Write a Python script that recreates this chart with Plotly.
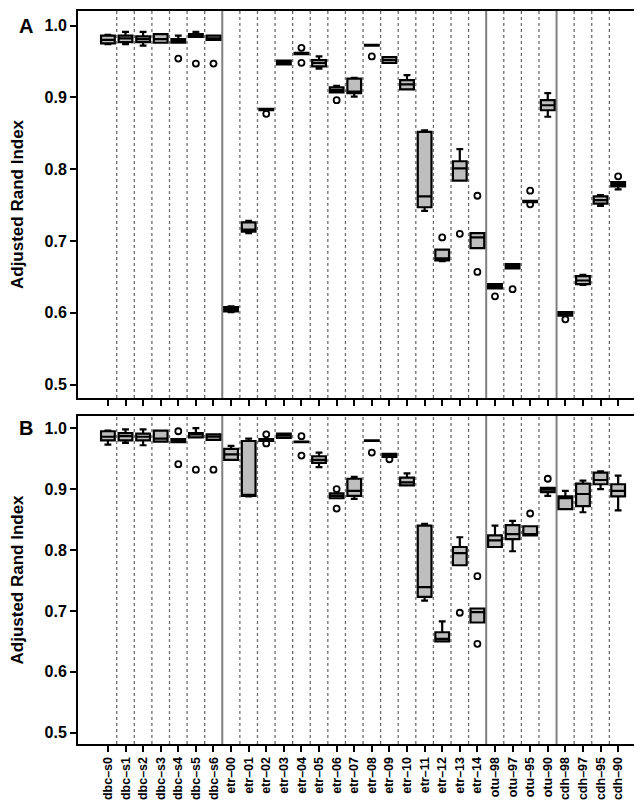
import plotly.graph_objects as go

categories = ["dbc-s0", "dbc-s1", "dbc-s2", "dbc-s3", "dbc-s4", "dbc-s5", "dbc-s6",
              "etr-00", "etr-01", "etr-02", "etr-03", "etr-04", "etr-05", "etr-06", "etr-07",
              "etr-08", "etr-09", "etr-10", "etr-11", "etr-12", "etr-13", "etr-14",
              "otu-98", "otu-97", "otu-95", "otu-90",
              "cdh-98", "cdh-97", "cdh-95", "cdh-90"]
group_sizes = [7, 15, 4, 4]
tick_labels = [c.replace("-", "\u2013") for c in categories]

# Panel A
A_lo = [.974, .974, .972, .976, .976, .984, .980, .601, .711, .882, .946, .960, .940, .907, .901,
        .972, .948, .911, .742, .672, .784, .690, .634, .662, .754, .873, .596, .639, .749, .772]
A_q1 = [.975, .977, .977, .976, .976, .984, .980, .602, .713, .882, .946, .960, .943, .907, .906,
        .972, .948, .911, .747, .673, .784, .690, .634, .662, .754, .882, .596, .640, .752, .776]
A_med = [.980, .982, .981, .981, .978, .985, .982, .605, .716, .883, .948, .961, .948, .910, .908,
         .973, .952, .918, .762, .676, .801, .705, .637, .665, .755, .889, .598, .645, .757, .779]
A_q3 = [.986, .986, .985, .988, .981, .988, .986, .608, .726, .884, .951, .962, .952, .914, .926,
        .973, .956, .924, .852, .688, .811, .711, .640, .668, .756, .896, .601, .651, .762, .782]
A_hi = [.987, .991, .991, .988, .986, .991, .986, .609, .728, .884, .951, .962, .957, .916, .927,
        .973, .956, .931, .854, .688, .828, .711, .640, .668, .756, .906, .601, .653, .764, .782]
A_out_cat = ["dbc-s4", "dbc-s5", "dbc-s6", "etr-02", "etr-04", "etr-04", "etr-06", "etr-08",
             "etr-12", "etr-13", "etr-14", "etr-14", "otu-98", "otu-97", "otu-95", "otu-95",
             "cdh-98", "cdh-90"]
A_out_val = [.954, .947, .947, .877, .969, .948, .896, .957,
             .705, .710, .763, .657, .623, .633, .770, .751,
             .591, .790]

# Panel B
B_lo = [.973, .976, .972, .978, .977, .985, .981, .948, .888, .979, .984, .977, .936, .885, .884,
        .979, .953, .906, .717, .650, .775, .681, .805, .798, .824, .889, .867, .862, .900, .865]
B_q1 = [.980, .980, .980, .978, .977, .985, .981, .948, .889, .979, .984, .977, .943, .885, .889,
        .979, .953, .906, .723, .650, .775, .681, .805, .818, .824, .895, .867, .872, .908, .888]
B_med = [.986, .987, .986, .983, .980, .990, .986, .957, .890, .981, .988, .978, .948, .889, .897,
         .979, .956, .911, .739, .654, .795, .698, .816, .826, .826, .899, .885, .892, .915, .897]
B_q3 = [.995, .992, .991, .996, .982, .992, .990, .966, .979, .982, .991, .978, .954, .893, .917,
        .980, .958, .919, .840, .665, .805, .704, .824, .841, .839, .902, .888, .909, .927, .908]
B_hi = [.996, .998, .998, .996, .982, 1.0, .990, .971, .983, .982, .991, .978, .960, .893, .920,
        .980, .958, .926, .843, .683, .821, .704, .840, .848, .839, .902, .897, .914, .929, .922]
B_out_cat = ["dbc-s4", "dbc-s4", "dbc-s5", "dbc-s6", "etr-02", "etr-02", "etr-04", "etr-04",
             "etr-06", "etr-06", "etr-08", "etr-09", "etr-13", "etr-14", "etr-14", "otu-95",
             "otu-90"]
B_out_val = [.995, .941, .932, .932, .990, .975, .987, .955,
             .900, .868, .960, .949, .697, .757, .646, .860,
             .917]

y_ticks = [0.5, 0.6, 0.7, 0.8, 0.9, 1.0]
y_range = [0.4815, 1.0202]
FONT = "Liberation Sans, Arial, Helvetica, sans-serif"

fig = go.Figure()


def add_panel(fig, xa, ya, lo, q1, med, q3, hi, out_cat, out_val):
    fig.add_trace(go.Box(
        x=categories, lowerfence=lo, q1=q1, median=med, q3=q3, upperfence=hi,
        xaxis=xa, yaxis=ya, width=0.78, whiskerwidth=0.5,
        fillcolor="#bebebe", line=dict(color="black", width=2.2),
        boxpoints=False, showlegend=False, hoverinfo="skip"))
    fig.add_trace(go.Scatter(
        x=out_cat, y=out_val, mode="markers", xaxis=xa, yaxis=ya,
        marker=dict(symbol="circle-open", size=6, color="black", line=dict(width=1.8)),
        showlegend=False, hoverinfo="skip"))


add_panel(fig, "x", "y", A_lo, A_q1, A_med, A_q3, A_hi, A_out_cat, A_out_val)
add_panel(fig, "x2", "y2", B_lo, B_q1, B_med, B_q3, B_hi, B_out_cat, B_out_val)

# separator lines between categories (dotted) and groups (solid)
group_edges = []
acc = 0
for g in group_sizes[:-1]:
    acc += g
    group_edges.append(acc)
shapes = []
for xref, yref in [("x", "y domain"), ("x2", "y2 domain")]:
    for i in range(1, len(categories)):
        solid = i in group_edges
        shapes.append(dict(
            type="line", xref=xref, yref=yref, x0=i - 0.5, x1=i - 0.5, y0=0, y1=1,
            layer="below",
            line=dict(color="#808080" if solid else "#6e6e6e",
                      width=2 if solid else 1.3,
                      dash="solid" if solid else "dot")))

axis_common = dict(showline=True, mirror=True, linecolor="black", linewidth=2,
                   showgrid=False, zeroline=False, ticks="outside", tickcolor="black",
                   tickwidth=1.5, ticklen=6)
x_range = [-1.70, 30.64]

fig.update_layout(
    width=642, height=800,
    margin=dict(l=70, r=1, t=1, b=64),
    plot_bgcolor="white", paper_bgcolor="white",
    font=dict(family=FONT, color="black"),
    shapes=shapes,
    xaxis=dict(**axis_common, domain=[0, 1], anchor="y", range=x_range,
               type="category", categoryorder="array", categoryarray=categories,
               showticklabels=False),
    yaxis=dict(**axis_common, domain=[0.4721, 1], anchor="x", range=y_range,
               tickvals=y_ticks, ticktext=[f"{v:.1f}" for v in y_ticks],
               tickfont=dict(size=16, weight="bold", family=FONT),
               title=dict(text="Adjusted Rand Index", standoff=22,
                          font=dict(size=17, weight="bold", family=FONT))),
    xaxis2=dict(**axis_common, domain=[0, 1], anchor="y2", range=x_range,
                type="category", categoryorder="array", categoryarray=categories,
                tickmode="array", tickvals=categories, ticktext=tick_labels,
                tickangle=-90, automargin=False,
                tickfont=dict(size=12.5, weight="bold", family=FONT)),
    yaxis2=dict(**axis_common, domain=[0, 0.4476], anchor="x2", range=y_range,
                tickvals=y_ticks, ticktext=[f"{v:.1f}" for v in y_ticks],
                tickfont=dict(size=16, weight="bold", family=FONT),
                title=dict(text="Adjusted Rand Index", standoff=22,
                           font=dict(size=17, weight="bold", family=FONT))),
    annotations=[
        dict(text="A", xref="paper", yref="y domain", x=-0.092, y=0.962,
             xanchor="center", yanchor="middle", showarrow=False,
             font=dict(size=20, weight="bold", family=FONT)),
        dict(text="B", xref="paper", yref="y2 domain", x=-0.092, y=0.963,
             xanchor="center", yanchor="middle", showarrow=False,
             font=dict(size=20, weight="bold", family=FONT)),
    ],
)

fig.write_html("out.html")
